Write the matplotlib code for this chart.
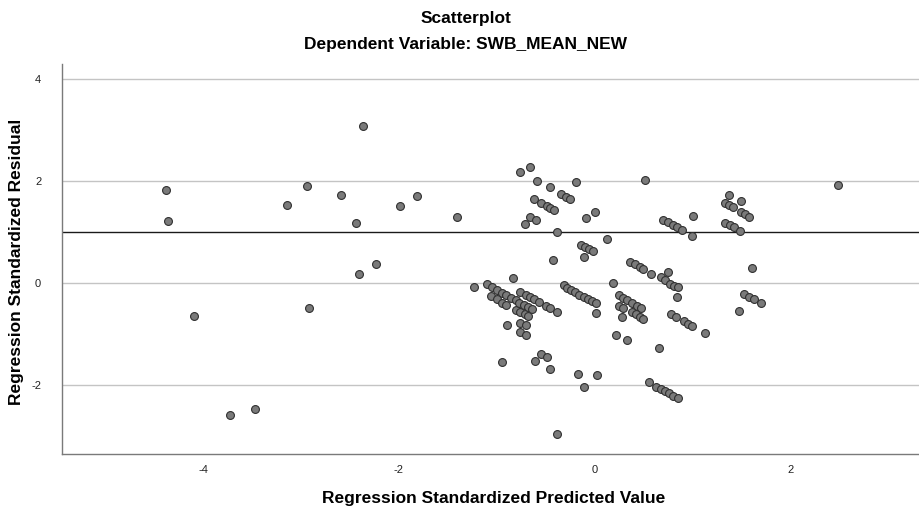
import matplotlib
matplotlib.use("Agg")
import matplotlib.pyplot as plt

plt.rcParams['font.family'] = ['Liberation Sans', 'DejaVu Sans']
plt.rcParams['axes.unicode_minus'] = False

# Regression standardized predicted value (x) and residual (y)
pred = [
    -4.38, -4.36, -4.09, -3.72, -3.47, -3.14, -2.94, -2.92, -2.59, -2.44, -2.41, -2.37,
    -2.23, -1.99, -1.81, -1.40,
    -0.757, -0.66, -0.59, -0.46, -0.19, -0.34, -0.29, -0.25, -0.62, -0.545, -0.49, -0.45,
    -0.41, -0.66, -0.60, -0.71, -0.09, 0.0, -0.38, 0.126, -0.136, -0.10, -0.06, -0.02,
    -0.11, -0.42, -0.83, -1.23, 0.19, 0.36, 0.41, 0.46, 0.50,
    -1.10, -1.05, -1.0, -0.95, -0.90, -0.85, -0.80,
    -1.06, -1.0, -0.95, -0.90,
    -0.757, -0.705, -0.66, -0.62, -0.57,
    -0.80, -0.757, -0.71, -0.675,
    -0.77, -0.72, -0.68, -0.64,
    -0.757, -0.70, -0.757, -0.70, -0.89,
    -0.50, -0.457, -0.38,
    -0.317, -0.279, -0.238, -0.197, -0.156, -0.112, -0.068, -0.024, 0.013,
    0.01,
    0.25, 0.29, 0.33, 0.38, 0.43, 0.47,
    0.25, 0.29,
    0.38, 0.42, 0.46, 0.50,
    0.28, 0.22, 0.33,
    -0.95, -0.61, -0.545, -0.49, -0.45, -0.17, 0.03, -0.11, -0.38,
    0.52, 0.70, 0.75, 0.80, 0.845, 0.89, 1.01, 1.00, 1.37, 1.50, 1.33, 1.37, 1.41,
    1.50, 1.54, 1.58, 1.33, 1.38, 1.42, 1.49, 1.61, 0.58, 0.675, 0.72, 0.77, 0.81,
    0.85, 0.75, 0.84, 1.53, 1.58, 1.63, 1.70, 1.48, 0.78, 0.83, 0.91, 0.95, 1.0,
    1.125, 0.655, 0.555, 0.63, 0.675, 0.72, 0.76, 0.80, 0.85, 2.49,
]
resid = [
    1.83, 1.22, -0.64, -2.59, -2.46, 1.52, 1.91, -0.48, 1.73, 1.18, 0.17, 3.08,
    0.37, 1.50, 1.71, 1.29,
    2.18, 2.28, 2.0, 1.88, 1.98, 1.75, 1.69, 1.65, 1.65, 1.57, 1.51, 1.47,
    1.43, 1.30, 1.23, 1.15, 1.28, 1.39, 1.0, 0.86, 0.745, 0.70, 0.66, 0.62,
    0.52, 0.45, 0.10, -0.08, 0.0, 0.41, 0.37, 0.32, 0.27,
    -0.02, -0.08, -0.14, -0.19, -0.24, -0.29, -0.33,
    -0.25, -0.31, -0.39, -0.43,
    -0.18, -0.24, -0.28, -0.32, -0.38,
    -0.52, -0.56, -0.60, -0.65,
    -0.39, -0.43, -0.47, -0.51,
    -0.78, -0.82, -0.96, -1.02, -0.83,
    -0.44, -0.49, -0.57,
    -0.045, -0.09, -0.14, -0.18, -0.23, -0.27, -0.31, -0.35, -0.40,
    -0.59,
    -0.24, -0.29, -0.34, -0.40, -0.44, -0.48,
    -0.44, -0.49,
    -0.57, -0.61, -0.66, -0.71,
    -0.67, -1.01, -1.12,
    -1.55, -1.52, -1.39, -1.44, -1.68, -1.78, -1.80, -2.04, -2.95,
    2.02, 1.24, 1.20, 1.14, 1.09, 1.04, 1.32, 0.93, 1.73, 1.60, 1.57, 1.53, 1.48,
    1.39, 1.35, 1.30, 1.18, 1.14, 1.09, 1.02, 0.30, 0.18, 0.12, 0.06, -0.01, -0.05,
    -0.08, 0.21, -0.27, -0.22, -0.27, -0.31, -0.39, -0.55, -0.61, -0.66, -0.75, -0.80, -0.84,
    -0.97, -1.27, -1.94, -2.03, -2.07, -2.12, -2.16, -2.21, -2.25, 1.93,
]

x_ticks = [-4, -2, 0, 2]
y_ticks = [-2, 0, 2, 4]
ref_line = 1

fig = plt.figure(figsize=(9.19, 5.12), dpi=100)
ax = fig.add_axes([0.0675, 0.113, 0.932, 0.762])

for yt in y_ticks:
    ax.axhline(yt, color='#c4c4c4', linewidth=1.0, zorder=1)
ax.axhline(ref_line, color='#1a1a1a', linewidth=1.0, zorder=1)

ax.scatter(pred, resid, s=32, facecolor='#7a7a7a', edgecolor='#303030',
           linewidth=0.8, zorder=3)

ax.set_xlim(-5.44, 3.31)
ax.set_ylim(-3.35, 4.29)
ax.set_xticks(x_ticks)
ax.set_yticks(y_ticks)
ax.tick_params(axis='both', length=0, labelsize=8, colors='#222222')
ax.tick_params(axis='y', pad=15)
ax.tick_params(axis='x', pad=8)

for side in ['top', 'right']:
    ax.spines[side].set_visible(False)
for side in ['left', 'bottom']:
    ax.spines[side].set_color('#7a7a7a')
    ax.spines[side].set_linewidth(1.0)

# axis titles placed in figure pixels
fig.text(494 / 919, 1 - 498 / 512, 'Regression Standardized Predicted Value',
         ha='center', va='center', fontsize=12.5, fontweight='bold')
fig.text(17 / 919, 1 - 262 / 512, 'Regression Standardized Residual',
         ha='center', va='center', rotation=90, fontsize=12.5, fontweight='bold')

fig.text(466 / 919, 1 - 19 / 512, 'Scatterplot', ha='center', va='center',
         fontsize=12.5, fontweight='bold')
fig.text(466 / 919, 1 - 45 / 512, 'Dependent Variable: SWB_MEAN_NEW', ha='center',
         va='center', fontsize=12.5, fontweight='bold')

fig.savefig('out.png', dpi=100)
